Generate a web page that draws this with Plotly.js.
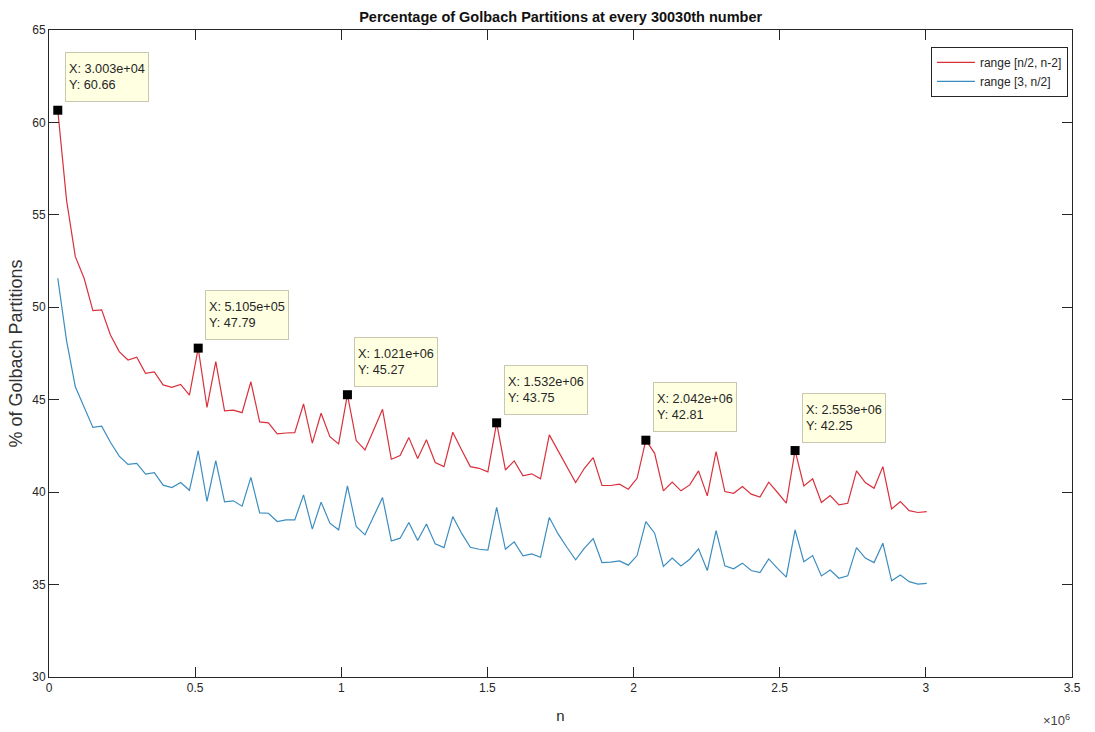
<!DOCTYPE html>
<html>
<head>
<meta charset="utf-8">
<script src="https://cdn.plot.ly/plotly-3.0.1.min.js"></script>
<style>html,body{margin:0;padding:0;background:#fff;}#chart{width:1095px;height:732px;}</style>
</head>
<body>
<div id="chart"></div>
<script>
// n values: every 30030th number
const n = [30030, 60060, 90090, 120120, 150150, 180180, 210210, 240240, 270270, 300300,
  330330, 360360, 390390, 420420, 450450, 480480, 510510, 540540, 570570, 600600,
  630630, 660660, 690690, 720720, 750750, 780780, 810810, 840840, 870870, 900900,
  930930, 960960, 990990, 1021020, 1051050, 1081080, 1111110, 1141140, 1171170, 1201200,
  1231230, 1261260, 1291290, 1321320, 1351350, 1381380, 1411410, 1441440, 1471470, 1501500,
  1531530, 1561560, 1591590, 1621620, 1651650, 1681680, 1711710, 1741740, 1771770, 1801800,
  1831830, 1861860, 1891890, 1921920, 1951950, 1981980, 2012010, 2042040, 2072070, 2102100,
  2132130, 2162160, 2192190, 2222220, 2252250, 2282280, 2312310, 2342340, 2372370, 2402400,
  2432430, 2462460, 2492490, 2522520, 2552550, 2582580, 2612610, 2642640, 2672670, 2702700,
  2732730, 2762760, 2792790, 2822820, 2852850, 2882880, 2912910, 2942940, 2972970, 3003000];

// % of Golbach partitions, range [n/2, n-2]
const redPct = [60.66, 55.8, 52.74, 51.57, 49.82, 49.86, 48.5, 47.6, 47.15, 47.3,
  46.43, 46.5, 45.8, 45.67, 45.83, 45.25, 47.79, 44.58, 47.06, 44.4,
  44.44, 44.3, 45.97, 43.8, 43.75, 43.15, 43.2, 43.22, 44.77, 42.65,
  44.27, 43.0, 42.61, 45.27, 42.79, 42.28, 43.37, 44.48, 41.78, 41.98,
  42.95, 41.82, 42.83, 41.6, 41.38, 43.24, 42.29, 41.38, 41.29, 41.1,
  43.75, 41.2, 41.69, 40.88, 40.99, 40.72, 43.1, 42.25, 41.38, 40.52,
  41.29, 41.87, 40.36, 40.36, 40.43, 40.16, 40.75, 42.81, 42.1, 40.07,
  40.54, 40.07, 40.39, 41.15, 39.8, 42.19, 40.03, 39.94, 40.3, 39.89,
  39.73, 40.54, 39.98, 39.4, 42.25, 40.34, 40.72, 39.44, 39.82, 39.31,
  39.4, 41.15, 40.52, 40.21, 41.38, 39.09, 39.49, 39.0, 38.9, 38.95];

// % of Golbach partitions, range [3, n/2]
const bluePct = [51.57, 48.2, 45.7, 44.6, 43.5, 43.57, 42.7, 41.95, 41.5, 41.55,
  40.97, 41.06, 40.38, 40.25, 40.52, 40.1, 42.24, 39.5, 41.7, 39.47,
  39.53, 39.24, 40.8, 38.88, 38.86, 38.41, 38.5, 38.5, 39.85, 38.0,
  39.46, 38.32, 37.96, 40.34, 38.14, 37.69, 38.68, 39.71, 37.36, 37.51,
  38.36, 37.38, 38.28, 37.2, 37.0, 38.68, 37.78, 37.02, 36.91, 36.86,
  39.18, 36.91, 37.31, 36.55, 36.66, 36.48, 38.63, 37.74, 37.02, 36.34,
  36.97, 37.49, 36.19, 36.21, 36.28, 36.05, 36.57, 38.41, 37.78, 35.98,
  36.43, 36.01, 36.37, 36.93, 35.76, 37.92, 36.01, 35.85, 36.16, 35.76,
  35.65, 36.39, 35.88, 35.4, 37.96, 36.24, 36.57, 35.47, 35.79, 35.34,
  35.47, 37.0, 36.43, 36.19, 37.24, 35.2, 35.52, 35.16, 35.03, 35.07];

// data tips (indices into the arrays)
const tipIdx = [0, 16, 33, 50, 67, 84];

const seriesNames = ['range [n/2, n-2]', 'range [3, n/2]'];
const xTickVals = [0, 500000, 1000000, 1500000, 2000000, 2500000, 3000000, 3500000];
const xTickText = ['0', '0.5', '1', '1.5', '2', '2.5', '3', '3.5'];
const yTickVals = [30, 35, 40, 45, 50, 55, 60, 65];

function fmtExp(v) {
  const s = v.toExponential(3);
  const m = s.match(/^(.*)e([+-])(\d+)$/);
  const e = m[3].length < 2 ? '0' + m[3] : m[3];
  return m[1] + 'e' + m[2] + e;
}

const FONT = '"Liberation Sans", Arial, sans-serif';
const AX = '#262626';

const traces = [
  {x: n, y: redPct, type: 'scatter', mode: 'lines', name: seriesNames[0],
   line: {color: '#d9303c', width: 1.2}},
  {x: n, y: bluePct, type: 'scatter', mode: 'lines', name: seriesNames[1],
   line: {color: '#3b8dc0', width: 1.2}},
  {x: tipIdx.map(i => n[i]), y: tipIdx.map(i => redPct[i]), type: 'scatter', mode: 'markers',
   showlegend: false, marker: {symbol: 'square', size: 9, color: '#000'}}
];

const annotations = tipIdx.map(i => ({
  x: n[i], y: redPct[i], xref: 'x', yref: 'y',
  text: 'X: ' + fmtExp(n[i]) + '<br>Y: ' + redPct[i].toFixed(2),
  showarrow: false, xanchor: 'left', yanchor: 'bottom', xshift: 7, yshift: 8,
  width: 76, height: 42, align: 'left', valign: 'middle',
  bgcolor: '#ffffe1', bordercolor: '#c8c8b0', borderwidth: 1, borderpad: 3,
  font: {family: FONT, size: 12.7, color: AX}
}));
annotations.push({
  xref: 'paper', yref: 'paper', x: 1, y: -0.066, xanchor: 'right', yanchor: 'middle',
  text: '\u00d710<sup>6</sup>', showarrow: false, font: {family: FONT, size: 13, color: '#444'}
});

const layout = {
  width: 1095, height: 732,
  margin: {l: 49, r: 23, t: 30, b: 55},
  paper_bgcolor: '#fff', plot_bgcolor: '#fff',
  font: {family: FONT, color: AX},
  title: {text: '<b>Percentage of Golbach Partitions at every 30030th number</b>',
          font: {family: FONT, size: 14.5, color: '#111'},
          x: 0.512, xanchor: 'center', y: 1 - 17/732, yanchor: 'middle', yref: 'container'},
  xaxis: {range: [0, 3500000], tickvals: xTickVals, ticktext: xTickText,
          ticks: 'inside', ticklen: 10, tickcolor: AX, showline: true, linecolor: AX, linewidth: 1,
          mirror: 'ticks', showgrid: false, zeroline: false,
          tickfont: {family: FONT, size: 12, color: AX},
          title: {text: 'n', font: {family: FONT, size: 15, color: AX}, standoff: 16}},
  yaxis: {range: [30, 65], tickvals: yTickVals,
          ticks: 'inside', ticklen: 10, tickcolor: AX, showline: true, linecolor: AX, linewidth: 1,
          mirror: 'ticks', showgrid: false, zeroline: false,
          tickfont: {family: FONT, size: 12, color: AX},
          title: {text: '% of Golbach Partitions', font: {family: FONT, size: 18, color: '#333'}, standoff: 4}},
  legend: {x: 0.996, y: 0.974, xanchor: 'right', yanchor: 'top', bgcolor: '#fff',
           bordercolor: AX, borderwidth: 1, font: {family: FONT, size: 12, color: AX},
           tracegroupgap: 0, itemwidth: 38},
  showlegend: true,
  annotations: annotations
};

Plotly.newPlot('chart', traces, layout, {displayModeBar: false, staticPlot: true});
</script>
</body>
</html>
